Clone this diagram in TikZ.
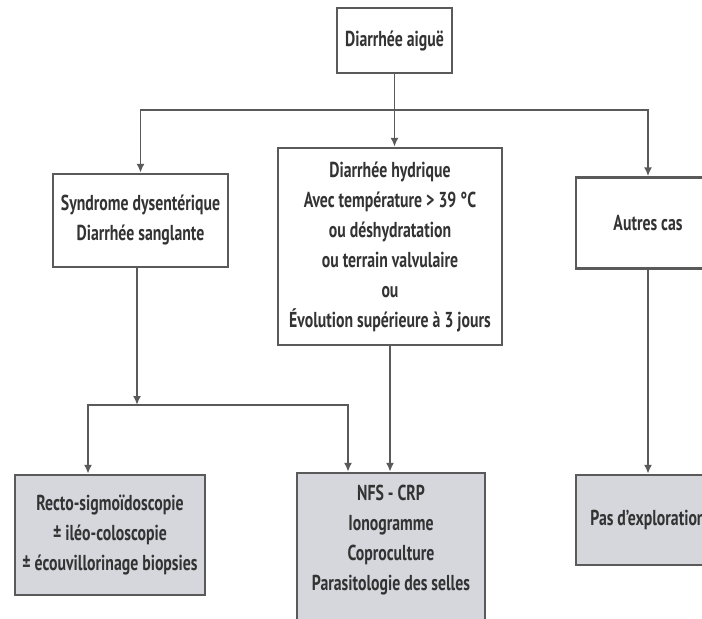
\documentclass[tikz,border=0pt]{standalone}
\usepackage{fontspec}
\setmainfont{PT Sans}[FakeStretch=0.73]
\usepackage{tikz}
\usetikzlibrary{arrows.meta}

\definecolor{boxgray}{RGB}{213,215,220}
\definecolor{linegray}{RGB}{90,90,90}

\begin{document}
\begin{tikzpicture}[x=0.5pt,y=-0.5pt,>={Latex[length=4.5pt,width=4pt]},
   box/.style={draw=linegray,line width=1.2pt,fill=white,align=center,
      font=\fontsize{10.8}{15}\selectfont\bfseries,text=black!80,inner sep=2pt},
   exam/.style={box,fill=boxgray},
   link/.style={draw=linegray,line width=0.9pt}]
   \useasboundingbox (0,0) rectangle (702,618);
   \clip (0,0) rectangle (702,618);

   \node[box,minimum width=57.5pt,minimum height=32.5pt] (aigue) at (394.5,40.5) {Diarrhée aiguë};
   \node[box,minimum width=87.5pt,minimum height=46.5pt] (synd) at (140.5,220.5)
      {Syndrome dysentérique\\Diarrhée sanglante};
   \node[box,minimum width=112pt,minimum height=98.5pt] (hydr) at (390,246.5)
      {Diarrhée hydrique\\Avec température > 39 °C\\ou déshydratation\\ou terrain valvulaire\\ou\\Évolution supérieure à 3 jours};
   \node[box,minimum width=72pt,minimum height=45.5pt] (autres) at (648,223) {Autres cas};

   \node[exam,minimum width=95pt,minimum height=60pt] (recto) at (110,535)
      {Recto-sigmoïdoscopie\\± iléo-coloscopie\\± écouvillorinage biopsies};
   \node[exam,minimum width=94pt,minimum height=80pt] (nfs) at (391,553)
      {NFS - CRP\\Ionogramme\\Coproculture\\Parasitologie des selles\\~};
   \node[exam,minimum width=72pt,minimum height=45pt] (pas) at (648,520) {Pas d'exploration};

   \coordinate (split) at (394.5,110);
   \coordinate (join) at (137,405);

   % premier niveau
   \draw[link,->] (aigue.south) -- (aigue.south |- hydr.north);
   \draw[link,->] (split) -| (synd.north);
   \draw[link,->] (split) -| (autres.north);

   % examens
   \draw[link,->] (synd.south -| join) -- (join);
   \draw[link,->] (join) -| ([xshift=-11pt]recto.north);
   \draw[link,->] (join) -| ([xshift=-21.5pt]nfs.north);
   \draw[link,->] (hydr.south) -- (hydr.south |- nfs.north);
   \draw[link,->] (autres.south) -- (pas.north);
\end{tikzpicture}
\end{document}
